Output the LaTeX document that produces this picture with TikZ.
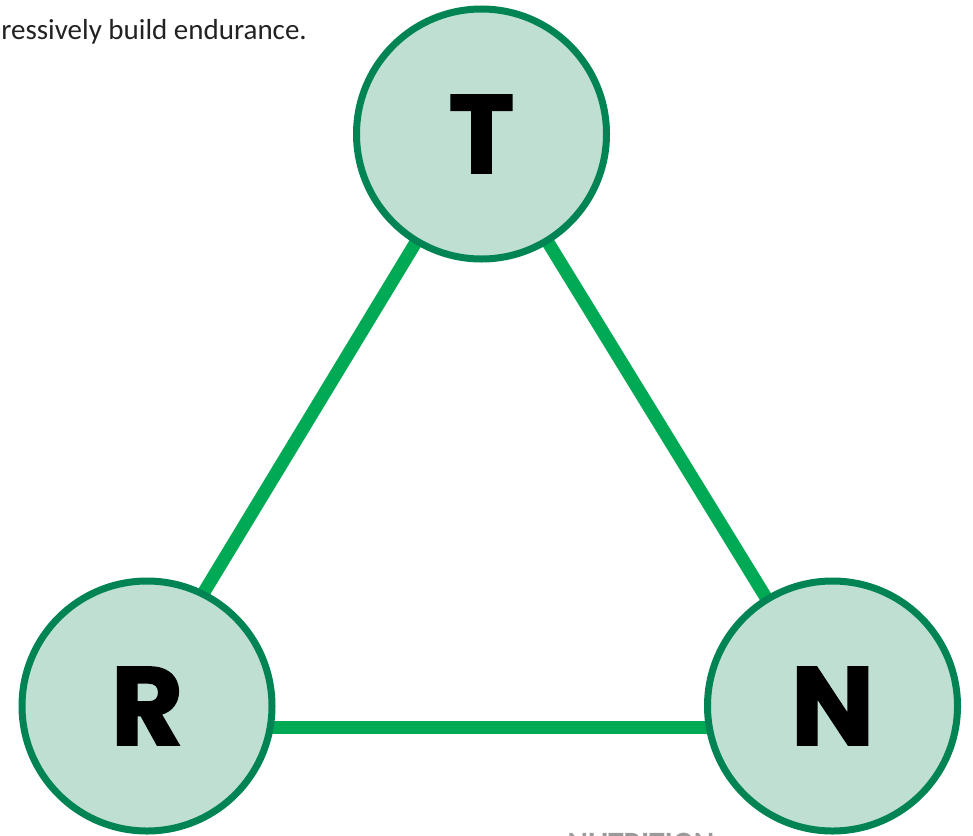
\documentclass[tikz,border=0pt]{standalone}
\usepackage{fontspec}
\usetikzlibrary{calc}
\newfontfamily\heavy[BoldFeatures={FakeBold=1.6}]{Poppins}
\newfontfamily\bodyfont{Carlito}
\definecolor{ringc}{HTML}{008453}
\definecolor{fillc}{HTML}{BFDFD2}
\definecolor{linkc}{HTML}{00AA55}
\definecolor{textc}{HTML}{222222}
\definecolor{grayc}{HTML}{9A9A9A}
\tikzset{
  hub/.style={circle, draw=ringc, fill=fillc, line width=7pt, minimum size=250pt, inner sep=0pt,
    font=\heavy\bfseries\fontsize{111}{111}\selectfont},
  link/.style={draw=linkc, line width=13pt}
}
\begin{document}
\begin{tikzpicture}[x=1pt,y=-1pt]
\useasboundingbox (0,0) rectangle (973,835);
\clip (0,0) rectangle (973,835);
\node[anchor=base east, font=\bodyfont\fontsize{29}{29}\selectfont, text=textc, inner sep=0pt] (txt) at (307,39) {ressively build endurance.};
\node[anchor=north, font=\bodyfont\bfseries\fontsize{31}{31}\selectfont, text=grayc, inner sep=0pt] (nut) at (641,832.5) {NUTRITION};
\coordinate (Tc) at (481.5,134);
\coordinate (Rc) at (147,706);
\coordinate (Nc) at (832.5,706);
\draw[link] (Tc) -- ($(Rc)+(-12,0)$);
\draw[link] (Tc) -- (Nc);
\draw[link] ($(Rc)+(0,21)$) -- ($(Nc)+(0,21)$);
\node[hub] (T) at (Tc) {T};
\node[hub] (R) at (Rc) {R};
\node[hub] (N) at (Nc) {N};
\end{tikzpicture}
\end{document}
